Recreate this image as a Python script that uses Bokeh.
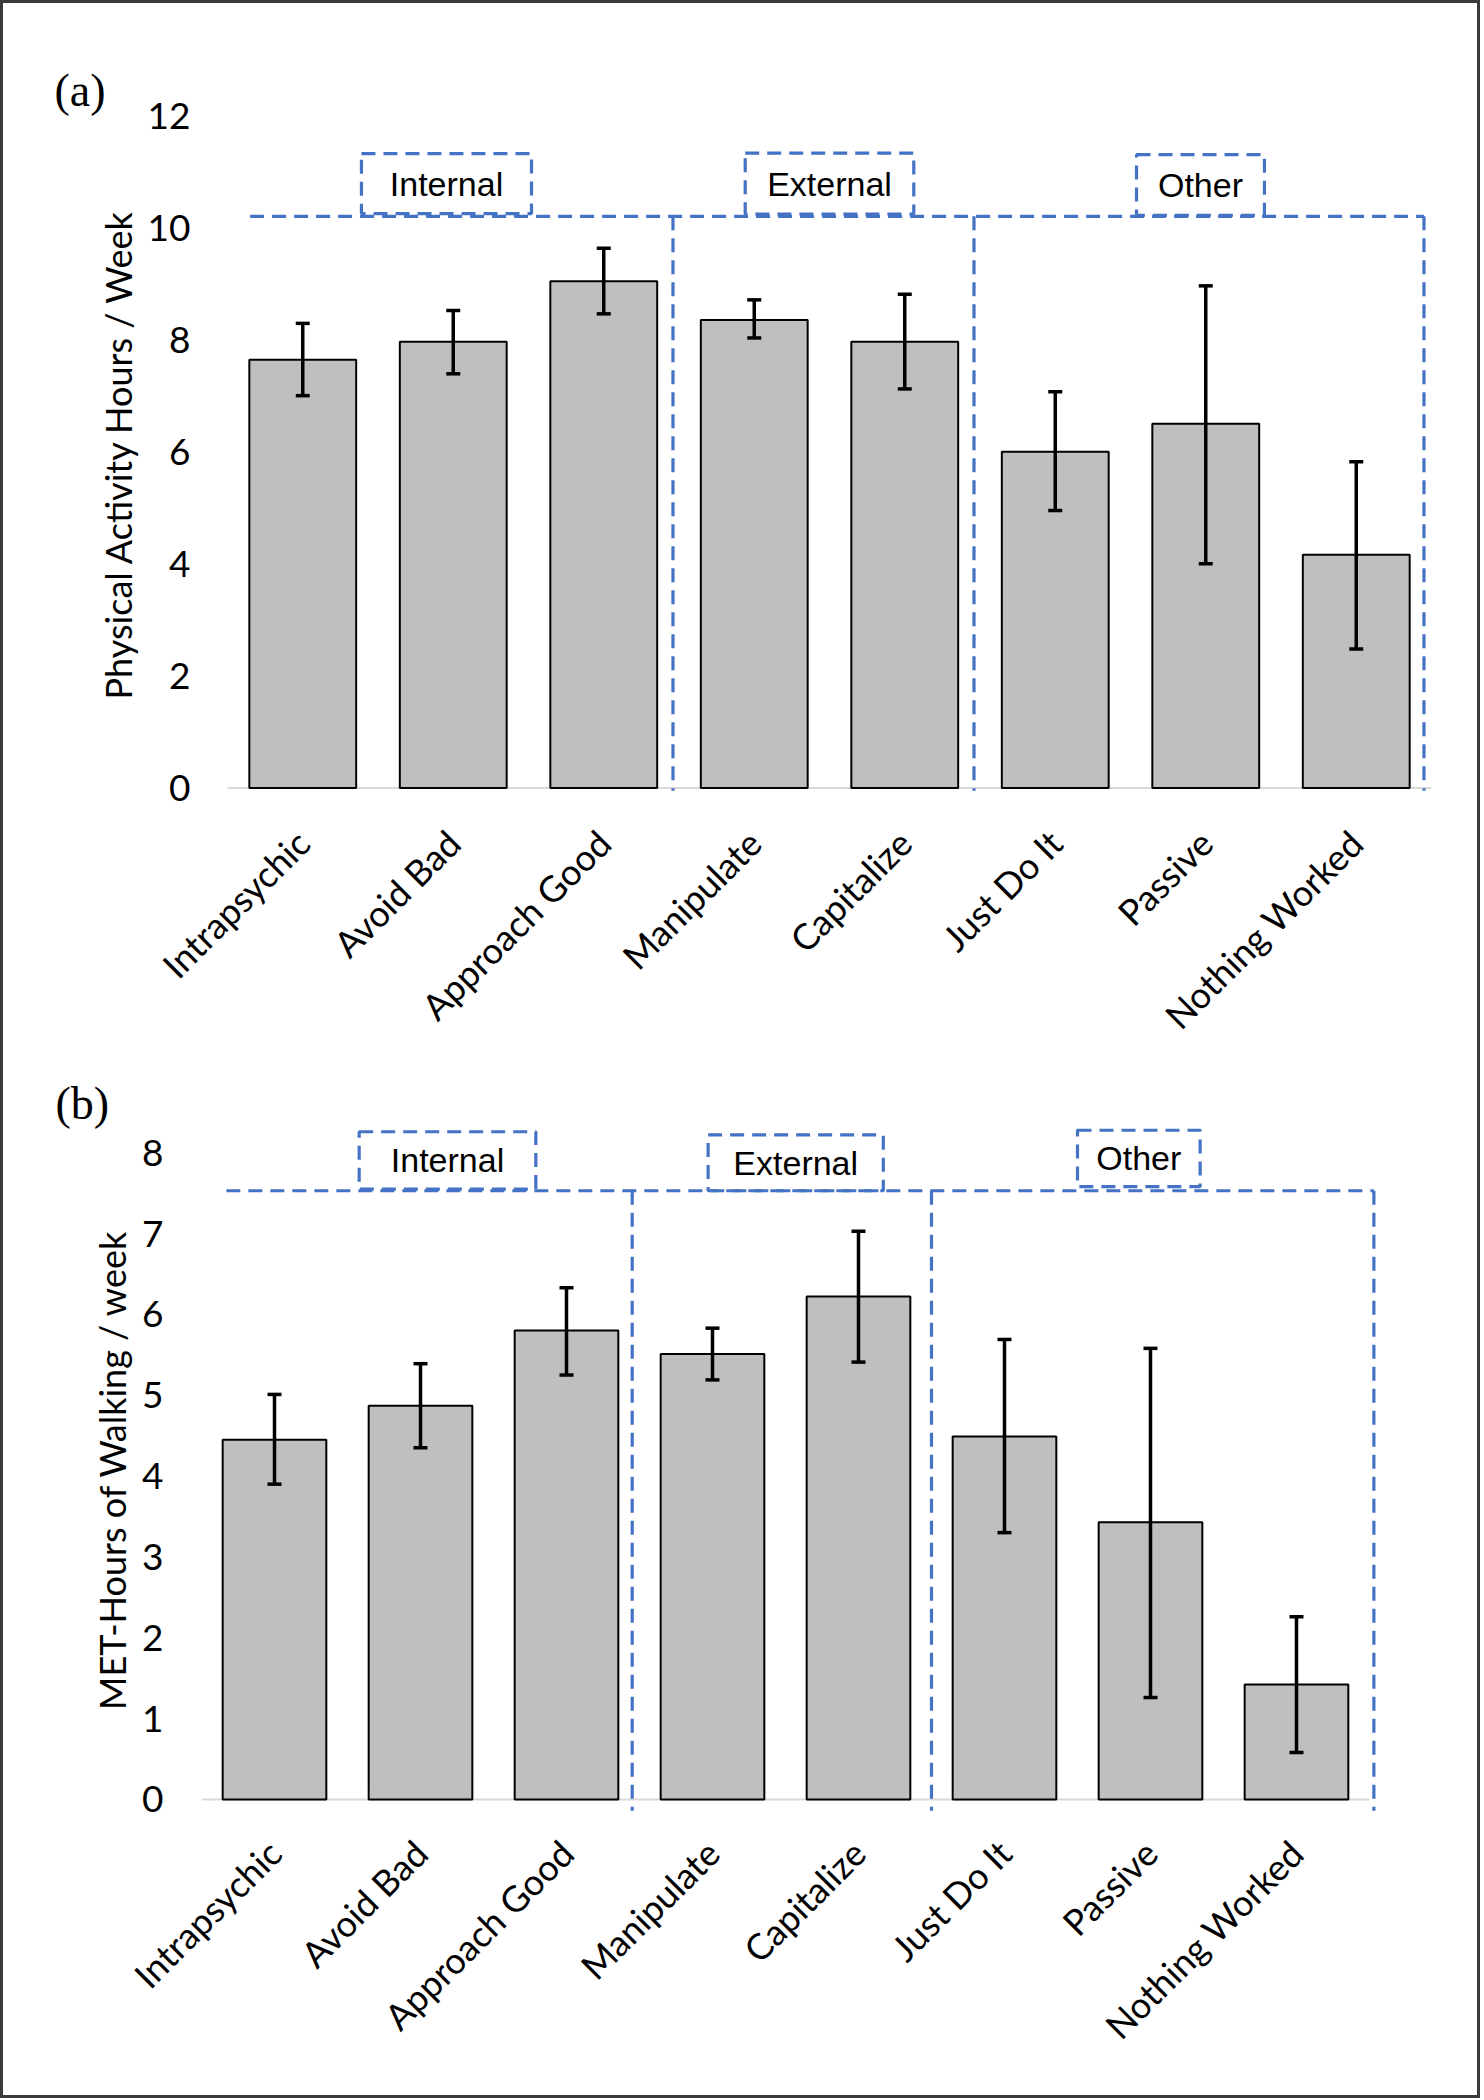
import math
from bokeh.plotting import figure
from bokeh.models import (Range1d, FixedTicker, Whisker, TeeHead, ColumnDataSource, Label)
from bokeh.layouts import column
from bokeh.embed import file_html
from bokeh.resources import INLINE

# ---------------- data ----------------
categories = ["Intrapsychic", "Avoid Bad", "Approach Good", "Manipulate",
              "Capitalize", "Just Do It", "Passive", "Nothing Worked"]
pa_mean = [7.64, 7.96, 9.04, 8.35, 7.96, 6.00, 6.50, 4.16]
pa_upper = [8.29, 8.52, 9.63, 8.71, 8.81, 7.07, 8.96, 5.82]
pa_lower = [7.00, 7.39, 8.46, 8.03, 7.12, 4.95, 4.00, 2.48]
met_mean = [4.45, 4.87, 5.80, 5.51, 6.22, 4.49, 3.43, 1.42]
met_upper = [5.01, 5.39, 6.33, 5.83, 7.03, 5.69, 5.58, 2.26]
met_lower = [3.90, 4.35, 5.25, 5.19, 5.41, 3.30, 1.26, 0.58]
groups = ["Internal", "External", "Other"]
pa_ticks = [0, 2, 4, 6, 8, 10, 12]
met_ticks = [0, 1, 2, 3, 4, 5, 6, 7, 8]

BLUE = "#4472C4"
DASH = "14 8"
W = 1474


def panel(height, mb_top, mb_bottom, xr, yr, mean, upper, lower, ticks, ytitle,
          ystandoff, xstandoff, tag, tag_offset, hline, vlines, boxes, vbottom):
    p = figure(width=W, height=height, output_backend="svg", toolbar_location=None,
               x_range=Range1d(*xr), y_range=Range1d(*yr),
               min_border_left=198, min_border_right=46,
               min_border_top=mb_top, min_border_bottom=mb_bottom)
    p.outline_line_color = None
    p.grid.visible = False
    p.background_fill_color = "white"
    p.border_fill_color = "white"

    p.title.text = tag
    p.title.text_font = "Liberation Serif"
    p.title.text_font_size = "46px"
    p.title.text_font_style = "normal"
    p.title.text_color = "black"
    p.title.align = "left"
    p.title.offset = tag_offset
    p.title.standoff = 0

    x = [i + 0.5 for i in range(len(categories))]
    src = ColumnDataSource(dict(x=x, top=mean, upper=upper, lower=lower))

    # baseline
    p.segment(x0=[0], y0=[0], x1=[8], y1=[0], line_color="#d9d9d9", line_width=2)

    p.vbar(x="x", top="top", bottom=0, width=0.71, source=src,
           fill_color="#bfbfbf", line_color="black", line_width=2)
    wk = Whisker(base="x", upper="upper", lower="lower", source=src,
                 line_color="black", line_width=3.5, level="overlay",
                 upper_head=TeeHead(size=14, line_width=3.5, line_color="black"),
                 lower_head=TeeHead(size=14, line_width=3.5, line_color="black"))
    p.add_layout(wk)

    # group dashed frames
    hx0, hx1, hy = hline
    p.line([hx0, hx1], [hy, hy], line_color=BLUE, line_width=3.2, line_dash=DASH)
    for vx in vlines:
        p.line([vx, vx], [hy, vbottom], line_color=BLUE, line_width=3.2, line_dash=DASH)
    for name, (bx0, bx1, by0, by1) in zip(groups, boxes):
        p.quad(left=bx0, right=bx1, bottom=by0, top=by1, fill_alpha=0,
               line_color=BLUE, line_width=3.2, line_dash=DASH)
        p.add_layout(Label(x=(bx0 + bx1) / 2, y=(by0 + by1) / 2, text=name,
                           text_font="Liberation Sans", text_font_size="34px",
                           text_align="center", text_baseline="middle",
                           text_color="black"))

    # y axis
    ya = p.yaxis[0]
    ya.ticker = FixedTicker(ticks=ticks)
    ya.axis_line_color = None
    ya.major_tick_line_color = None
    ya.minor_tick_line_color = None
    ya.major_label_text_font = "Lato"
    ya.major_label_text_font_size = "37px"
    ya.major_label_text_color = "black"
    ya.major_label_standoff = ystandoff
    ya.axis_label = ytitle
    ya.axis_label_text_font = "Lato"
    ya.axis_label_text_font_size = "36px"
    ya.axis_label_text_font_style = "normal"
    ya.axis_label_text_color = "black"
    ya.axis_label_standoff = 5

    # x axis
    xa = p.xaxis[0]
    xa.ticker = FixedTicker(ticks=x)
    xa.major_label_overrides = {xi: c for xi, c in zip(x, categories)}
    xa.major_label_orientation = math.pi / 4
    xa.axis_line_color = None
    xa.major_tick_line_color = None
    xa.minor_tick_line_color = None
    xa.major_label_text_font = "Lato"
    xa.major_label_text_font_size = "36px"
    xa.major_label_text_color = "black"
    xa.major_label_standoff = xstandoff
    return p


pa = panel(1057, 112, 267, (-0.1728, 8.0), (-0.1, 12), pa_mean, pa_upper, pa_lower,
           pa_ticks, "Physical Activity Hours / Week", 5, 37, "(a)", -147,
           (0.15, 7.95, 10.2), [2.96, 4.96, 7.95],
           [(0.89, 2.02, 10.25, 11.32), (3.44, 4.56, 10.24, 11.33), (6.04, 6.89, 10.22, 11.30)],
           -0.05)

pb = panel(1035, 68, 284, (0, 8.4247), (-0.15, 8.3), met_mean, met_upper, met_lower,
           met_ticks, "MET-Hours of Walking / week", 32, 29, "(b)", -146,
           (0.17, 8.03, 7.53), [2.95, 5.0, 8.03],
           [(1.08, 2.29, 7.55, 8.26), (3.47, 4.67, 7.53, 8.22), (6.0, 6.84, 7.58, 8.28)],
           -0.14)

layout = column(pa, pb, styles={"border": "3px solid #3a3a3a"})
open("out.html", "w").write(file_html(layout, INLINE))
